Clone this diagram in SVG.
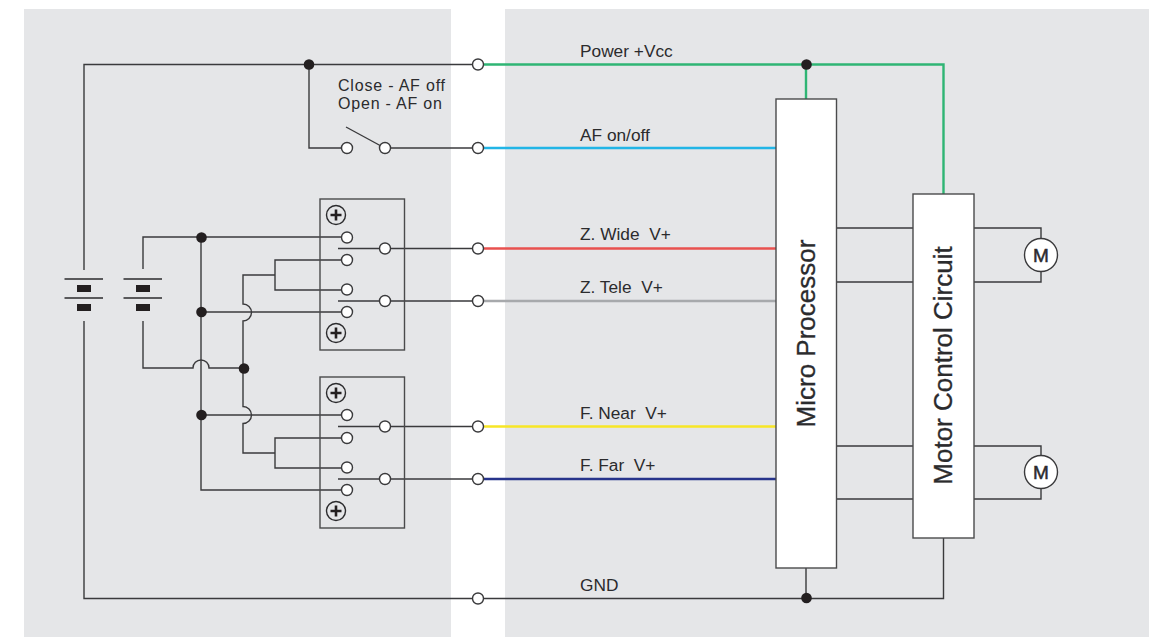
<svg xmlns="http://www.w3.org/2000/svg" width="1160" height="637" viewBox="0 0 1160 637">
<style>
.w{fill:none;stroke:#3a3a3c;stroke-width:1.4}
.box{fill:none;stroke:#4a4a4c;stroke-width:1.4}
.blk{fill:#fff;stroke:#4a4a4c;stroke-width:1.4}
.t{fill:#fff;stroke:#3a3a3c;stroke-width:1.4}
.d{fill:#231f20}
.bar{fill:#231f20}
.c{fill:none;stroke-width:2.4}
text{font-family:"Liberation Sans",Arial,sans-serif;fill:#2b2b2d}
.l{font-size:17.300px}
.n{font-size:16px;letter-spacing:.8px}
.b{font-size:26px;stroke:#2b2b2d;stroke-width:.3}
.m{font-size:19px;text-anchor:middle;stroke:#2b2b2d;stroke-width:.5}
.s{fill:#e5e6e8;stroke:#2b2b2d;stroke-width:1.4}
.p{stroke:#231f20;stroke-width:2.6;fill:none}
</style>
<defs>
<g id="screw"><circle class="s" r="9.500"/><path class="p" d="M-5.500 0H5.500M0-5.500V5.500"/></g>
<g id="bat"><path d="M-19.500-12H19M-19.500 7H19" stroke="#2b2b2d" stroke-width="1.300" fill="none"/><rect class="bar" x="-7" y="-6" width="14" height="7"/><rect class="bar" x="-7" y="13" width="14" height="7"/></g>
</defs>
<rect id="panel-left" x="24" y="9" width="427" height="628" fill="#e5e6e8"/>
<rect id="panel-right" x="505" y="9" width="644" height="628" fill="#e5e6e8"/>
<g id="connectors">
<path class="w" d="M84 270V64.500H472"/>
<path class="w" d="M84 321V598.500H472"/>
<path class="w" d="M309 64.500V148H347"/>
<path class="w" d="M346 127L381 146"/>
<path class="w" d="M385 148H478"/>
<path class="w" d="M143 269V237H347"/>
<path class="w" d="M143 321V368H193a8 8 0 0 1 16 0H243.500"/>
<path class="w" d="M201 237V490H347"/>
<path class="w" d="M201 312H347"/>
<path class="w" d="M201 415H347"/>
<path class="w" d="M243 368V321a8.500 8.500 0 0 0 0-17V275H275"/>
<path class="w" d="M243 368V406.500a8.500 8.500 0 0 1 0 17V453H275"/>
<path class="w" d="M347 260H275V290H347"/>
<path class="w" d="M347 438H275V468H347"/>
<path class="w" d="M338 248.500H478M338 301H478M338 426.500H478M338 479H478"/>
<path class="w" d="M836 228H913M836 282H913M836 446H913M836 499H913"/>
<path class="w" d="M974 228H1041V238M974 282H1041V272M974 446H1041V456M974 499H1041V489"/>
<path class="w" d="M484 598.500H943.500V538M806 568V598"/>
<path class="c" stroke="#2fb574" d="M484 64.500H943.500V194M806 64.500V99"/>
<path class="c" stroke="#22b5e6" d="M484 148H776"/>
<path class="c" stroke="#e8514f" d="M484 248.500H776"/>
<path class="c" stroke="#a7a9ac" d="M484 301H776"/>
<path class="c" stroke="#f7e626" d="M484 426.500H776"/>
<path class="c" stroke="#27348b" d="M484 479H776"/>
</g>
<g id="junctions">
<circle class="d" cx="309" cy="64.500" r="5.300"/><circle class="d" cx="806.500" cy="64.500" r="5.300"/>
<circle class="d" cx="201.500" cy="237.500" r="5.300"/><circle class="d" cx="201.500" cy="312" r="5.300"/>
<circle class="d" cx="244" cy="368.500" r="5.300"/><circle class="d" cx="201.500" cy="415" r="5.300"/>
<circle class="d" cx="806.500" cy="598" r="5.300"/>
</g>
<g id="battery-1"><use href="#bat" x="84" y="291"/></g>
<g id="battery-2"><use href="#bat" x="143" y="291"/></g>
<g id="af-switch">
<circle class="t" cx="347" cy="148" r="5.500"/><circle class="t" cx="385" cy="148" r="5.500"/>
<text class="n" x="338" y="90.500">Close - AF off</text><text class="n" x="338" y="108.500">Open - AF on</text>
</g>
<g id="zoom-switch">
<rect class="box" x="320" y="199" width="84.500" height="151"/>
<use href="#screw" x="336" y="215"/><use href="#screw" x="336" y="333"/>
<circle class="t" cx="347" cy="237.500" r="5.500"/><circle class="t" cx="347" cy="260" r="5.500"/><circle class="t" cx="347" cy="289.500" r="5.500"/><circle class="t" cx="347" cy="312" r="5.500"/>
<circle class="t" cx="385" cy="248.500" r="5.500"/><circle class="t" cx="385" cy="301" r="5.500"/>
</g>
<g id="focus-switch">
<rect class="box" x="320" y="377" width="84.500" height="151"/>
<use href="#screw" x="336" y="393"/><use href="#screw" x="336" y="511"/>
<circle class="t" cx="347" cy="415" r="5.500"/><circle class="t" cx="347" cy="438" r="5.500"/><circle class="t" cx="347" cy="467.500" r="5.500"/><circle class="t" cx="347" cy="490" r="5.500"/>
<circle class="t" cx="385" cy="426.500" r="5.500"/><circle class="t" cx="385" cy="479" r="5.500"/>
</g>
<g id="terminals">
<circle class="t" cx="478" cy="64.500" r="5.500"/><circle class="t" cx="478" cy="148" r="5.500"/><circle class="t" cx="478" cy="248.500" r="5.500"/><circle class="t" cx="478" cy="301" r="5.500"/><circle class="t" cx="478" cy="426.500" r="5.500"/><circle class="t" cx="478" cy="479" r="5.500"/><circle class="t" cx="478" cy="598.500" r="5.500"/>
</g>
<g id="labels">
<text class="l" x="580" y="56.500">Power +Vcc</text>
<text class="l" x="580" y="140.500">AF on/off</text>
<text class="l" x="580" y="239.500" xml:space="preserve">Z. Wide  V+</text>
<text class="l" x="580" y="292.500" xml:space="preserve">Z. Tele  V+</text>
<text class="l" x="580" y="418.500" xml:space="preserve">F. Near  V+</text>
<text class="l" x="580" y="470.500" xml:space="preserve">F. Far  V+</text>
<text class="l" x="580" y="590.500">GND</text>
</g>
<g id="micro-processor">
<rect class="blk" x="776" y="99" width="60.500" height="469"/>
<text class="b" transform="translate(815 333.500) rotate(-90)" text-anchor="middle">Micro Processor</text>
</g>
<g id="motor-control">
<rect class="blk" x="913" y="194" width="61" height="344"/>
<text class="b" transform="translate(952 365.500) rotate(-90)" text-anchor="middle">Motor Control Circuit</text>
</g>
<g id="motor-1"><circle class="t" cx="1041" cy="255" r="16.500"/><text class="m" x="1041" y="262">M</text></g>
<g id="motor-2"><circle class="t" cx="1041" cy="472" r="16.500"/><text class="m" x="1041" y="479">M</text></g>
</svg>
